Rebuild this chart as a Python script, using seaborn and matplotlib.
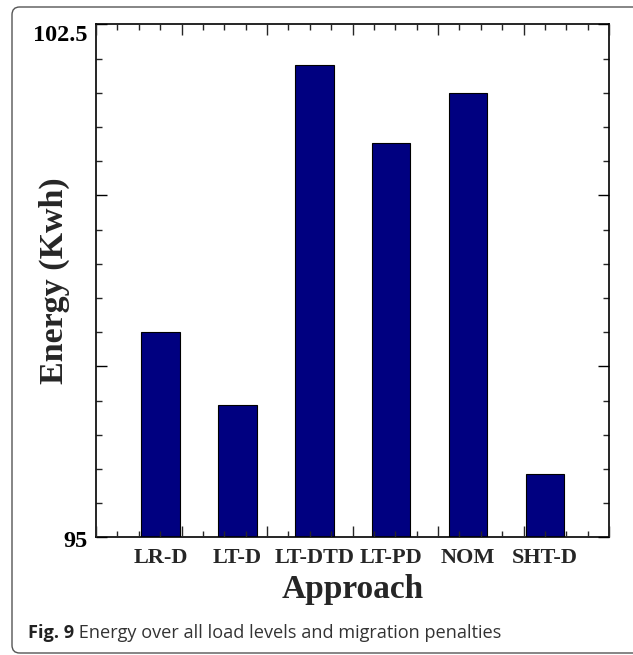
import numpy as np
import matplotlib
matplotlib.use("Agg")
import matplotlib.pyplot as plt
from matplotlib.patches import FancyBboxPatch
from matplotlib.ticker import MultipleLocator, FixedLocator, FuncFormatter
from matplotlib.transforms import ScaledTranslation
import seaborn as sns

# Energy per migration approach
approaches = ["LR-D", "LT-D", "LT-DTD", "LT-PD", "NOM", "SHT-D"]
energy = [98.0, 96.93, 101.9, 100.77, 101.5, 95.93]
y_major = [95, 97.5, 100, 102.5]
y_labels = {95.0: "95", 102.5: "102.5"}

sns.set_theme(style="white")
plt.rcParams["font.family"] = ["Liberation Serif", "DejaVu Serif"]

fig = plt.figure(figsize=(6.33, 6.55), dpi=100)

# rounded frame around figure and caption
frame = FancyBboxPatch((12 / 633, 2 / 655), 640 / 633, 646 / 655,
                       boxstyle="round,pad=0,rounding_size=0.012",
                       transform=fig.transFigure, facecolor="none",
                       edgecolor="#555555", linewidth=1.0, clip_on=False)
fig.patches.append(frame)

ax = fig.add_axes([96 / 633, 117.7 / 655, 513 / 633, 513 / 655])
sns.barplot(x=approaches, y=energy, color="#000080", saturation=1,
            width=0.5, edgecolor="black", linewidth=0.8, ax=ax)

ax.set_xlim(-0.839, 5.832)
ax.set_ylim(95, 102.5)
ax.yaxis.set_major_locator(FixedLocator(y_major))
ax.yaxis.set_minor_locator(MultipleLocator(0.5))
ax.yaxis.set_major_formatter(FuncFormatter(lambda v, p: y_labels.get(round(float(v), 1), "")))
ax.tick_params(axis="y", which="major", direction="in", length=8, width=1,
               left=True, right=True, labelleft=True, labelsize=17.5, pad=6,
               colors="black")
ax.tick_params(axis="y", which="minor", direction="in", length=4, width=1,
               left=True, right=True)
ax.tick_params(axis="x", which="both", length=0, labelsize=16, pad=8)

ax.set_xlabel("Approach", fontsize=24, fontweight="bold", labelpad=4)
ax.set_ylabel("Energy (Kwh)", fontsize=24.5, fontweight="bold")
ax.yaxis.set_label_coords(-0.05, 0.5)

for s in ax.spines.values():
    s.set_visible(True)
    s.set_color("black")
    s.set_linewidth(1.2)

# independent tick marks along top and bottom edges
ax2 = ax.twiny()
ax2.set_xlim(0, 6)
ax2.xaxis.set_major_locator(MultipleLocator(1))
ax2.xaxis.set_minor_locator(MultipleLocator(0.25))
ax2.tick_params(axis="x", which="major", direction="in", length=8, width=1,
                top=True, bottom=True, labeltop=False, labelbottom=False)
ax2.tick_params(axis="x", which="minor", direction="in", length=4, width=1,
                top=True, bottom=True, labeltop=False, labelbottom=False)
for s in ax2.spines.values():
    s.set_visible(False)

for lab in ax.get_xticklabels() + ax.get_yticklabels():
    lab.set_fontweight("bold")

# nudge the end labels of the y axis slightly downward
yticks = ax.yaxis.get_major_ticks()
for tk, dy in ((yticks[0], 2), (yticks[-1], 9)):
    lbl = tk.label1
    lbl.set_transform(lbl.get_transform() + ScaledTranslation(0, -dy / 100, fig.dpi_scale_trans))

# caption
cap_font = ["Open Sans", "DejaVu Sans"]
t1 = fig.text(28 / 633, 1 - 633 / 655, "Fig. 9", fontsize=13.1, fontweight="bold",
              family=cap_font, va="center", ha="left", color="#222222")
fig.canvas.draw()
bb = t1.get_window_extent(fig.canvas.get_renderer())
x_next = bb.x1 / fig.bbox.width
fig.text(x_next, 1 - 633 / 655, " Energy over all load levels and migration penalties",
         fontsize=13.1, family=cap_font, va="center", ha="left", color="#333333")

fig.savefig("out.png", dpi=100)
